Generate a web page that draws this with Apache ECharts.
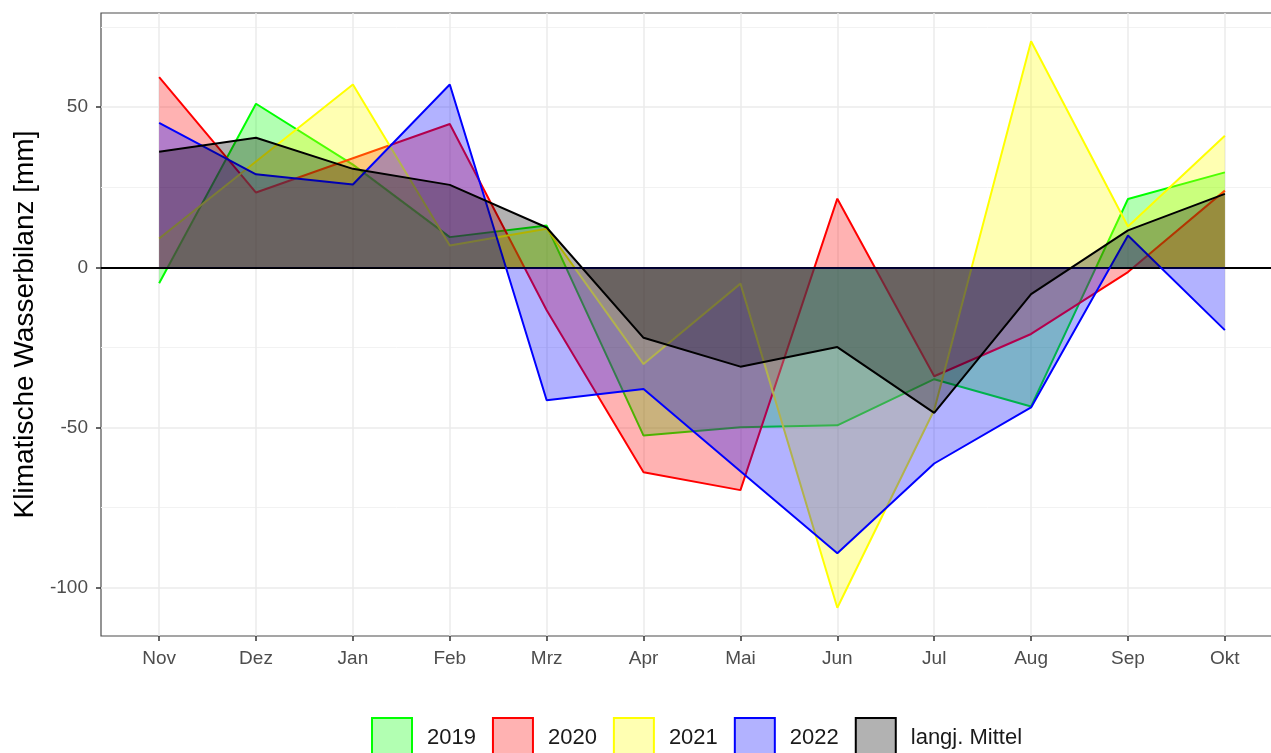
<!DOCTYPE html>
<html>
<head>
<meta charset="utf-8">
<title>Klimatische Wasserbilanz</title>
<script src="https://cdn.jsdelivr.net/npm/echarts@6/dist/echarts.min.js"></script>
<style>
    html, body { margin: 0; padding: 0; background: #fff; overflow: hidden; }
    #chart { width: 1283px; height: 753px; }
</style>
</head>
<body>
<div id="chart"></div>
<script>
var months = ['Nov', 'Dez', 'Jan', 'Feb', 'Mrz', 'Apr', 'Mai', 'Jun', 'Jul', 'Aug', 'Sep', 'Okt'];

var v2019 = [-5, 51, 32, 9.4, 13, -52.5, -49.9, -49.3, -34.9, -43.4, 21.3, 29.6];
var v2020 = [59.3, 23.3, 34, 44.7, -13.4, -63.9, -69.5, 21.4, -34, -20.8, -1.5, 23.9];
var v2021 = [9, 33, 57, 6.8, 12, -30.2, -5.1, -106.2, -44.5, 70.5, 12.7, 41];
var v2022 = [45, 29, 25.8, 57, -41.5, -38, -63.6, -89.2, -61.2, -43.7, 9.9, -19.6];
var vMean = [36, 40.4, 30.7, 25.7, 12.4, -22, -31, -24.9, -45.4, -8.4, 11.5, 22.9];

var seriesNames = ['2019', '2020', '2021', '2022', 'langj. Mittel'];
var lineColors = ['#00ff00', '#ff0000', '#ffff00', '#0000ff', '#000000'];
var fillColors = [
    'rgba(0,255,0,0.3)',
    'rgba(255,0,0,0.3)',
    'rgba(255,255,0,0.3)',
    'rgba(0,0,255,0.3)',
    'rgba(0,0,0,0.3)'
];

var yMajor = [-100, -50, 0, 50];
var yMinor = [-75, -25, 25, 75];

// the panel runs past the right edge of the window, as in the original
var chart = echarts.init(document.getElementById('chart'));

// pair month index with value for the numeric x axis
function toPoints(values) {
    return values.map(function (v, i) {
        return [i, v];
    });
}

var monthIdx = months.map(function (m, i) { return i; });

var allValues = [v2019, v2020, v2021, v2022, vMean];
var series = allValues.map(function (values, k) {
    return {
        name: seriesNames[k],
        type: 'line',
        data: toPoints(values),
        showSymbol: false,
        symbol: 'none',
        lineStyle: { color: lineColors[k], width: 2 },
        itemStyle: { color: lineColors[k] },
        areaStyle: { color: fillColors[k], opacity: 1, origin: 'auto' },
        z: 2 + k
    };
});

// horizontal zero line on top
series[4].markLine = {
    silent: true,
    symbol: 'none',
    label: { show: false },
    lineStyle: { color: '#000', width: 2, type: 'solid' },
    data: [{ yAxis: 0 }]
};

var legendData = seriesNames.map(function (name, k) {
    return {
        name: name,
        icon: 'rect',
        itemStyle: {
            color: fillColors[k],
            borderColor: lineColors[k],
            borderWidth: 2
        }
    };
});

chart.setOption({
    animation: false,
    textStyle: { fontFamily: 'Liberation Sans, Arial, sans-serif' },
    grid: {
        left: 101,
        top: 13,
        right: 0,
        height: 623,
        show: true,
        borderColor: '#4d4d4d',
        borderWidth: 1.2,
        backgroundColor: 'transparent'
    },
    legend: {
        left: 366,
        top: 712,
        itemWidth: 40,
        itemHeight: 40,
        itemGap: 16,
        data: legendData,
        textStyle: {
            fontSize: 22,
            color: '#1a1a1a',
            padding: [0, 0, 0, 10]
        }
    },
    xAxis: {
        type: 'value',
        min: -0.6,
        max: 11.6,
        axisLine: { show: false, onZero: false },
        axisTick: {
            show: true,
            length: 5,
            lineStyle: { color: '#333', width: 1.5 },
            customValues: monthIdx
        },
        axisLabel: {
            fontSize: 19,
            color: '#4d4d4d',
            margin: 13,
            customValues: monthIdx,
            formatter: function (v) {
                return months[Math.round(v)];
            }
        },
        splitLine: { show: true, lineStyle: { color: '#ebebeb', width: 1.5 } }
    },
    yAxis: [
        {
            type: 'value',
            min: -115,
            max: 79.3,
            name: 'Klimatische Wasserbilanz [mm]',
            nameLocation: 'middle',
            nameGap: 62,
            nameTextStyle: { fontSize: 28, color: '#000' },
            axisLine: { show: false, onZero: false },
            axisTick: {
                show: true,
                length: 5,
                lineStyle: { color: '#333', width: 1.5 },
                customValues: yMajor
            },
            axisLabel: {
                fontSize: 19,
                color: '#4d4d4d',
                margin: 13,
                customValues: yMajor
            },
            splitLine: { show: true, lineStyle: { color: '#ebebeb', width: 1.5 } }
        },
        {
            type: 'value',
            min: -115,
            max: 79.3,
            position: 'left',
            axisLine: { show: false, onZero: false },
            axisTick: { show: false, customValues: yMinor },
            axisLabel: { show: false },
            splitLine: { show: true, lineStyle: { color: '#f2f2f2', width: 1 } }
        }
    ],
    series: series
});
</script>
</body>
</html>
